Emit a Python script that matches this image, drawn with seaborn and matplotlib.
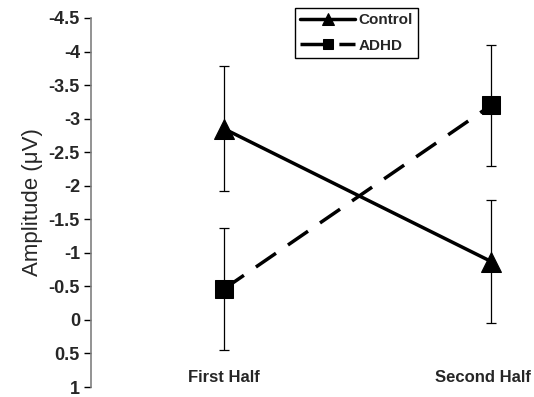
import matplotlib
matplotlib.use("Agg")
import matplotlib.pyplot as plt
from matplotlib.transforms import ScaledTranslation
import seaborn as sns
import pandas as pd

# Mean ERP amplitude per task half, with error bar half-widths
halves = ["First Half", "Second Half"]
control_mean = [-2.85, -0.87]
control_err = [0.93, 0.92]
adhd_mean = [-0.46, -3.20]
adhd_err = [0.91, 0.90]
y_ticks = [-4.5, -4, -3.5, -3, -2.5, -2, -1.5, -1, -0.5, 0, 0.5, 1]

df = pd.DataFrame({
    "half": halves * 2,
    "amp": control_mean + adhd_mean,
    "err": control_err + adhd_err,
    "group": ["Control"] * 2 + ["ADHD"] * 2,
})

sns.set_style("white")
plt.rcParams["font.family"] = ["Liberation Sans", "DejaVu Sans"]

fig = plt.figure(figsize=(5.34, 3.97), dpi=100)
ax = fig.add_axes([91 / 534, 1 - 387 / 397, 1 - 91 / 534, (387 - 18) / 397])

# error bars first so the lines and markers sit on top
for grp in ["Control", "ADHD"]:
    sub = df[df["group"] == grp]
    ax.errorbar(x=[halves.index(h) for h in sub["half"]], y=sub["amp"], yerr=sub["err"],
                fmt="none", ecolor="black", elinewidth=0.9, capsize=3.5, capthick=0.9,
                zorder=2)

sns.lineplot(data=df, x="half", y="amp", hue="group", style="group",
             hue_order=["Control", "ADHD"], style_order=["Control", "ADHD"],
             palette={"Control": "black", "ADHD": "black"},
             markers={"Control": "^", "ADHD": "s"},
             dashes={"Control": "", "ADHD": (7.0, 4.2)},
             linewidth=2.5, markersize=14, markeredgecolor="black",
             ax=ax, zorder=3, legend=True)

for line in ax.lines:
    if line.get_marker() == "s":
        line.set_markersize(12.5)

ax.set_ylim(1, -4.5)
ax.set_xlim(-0.497, 1.16)
ax.set_yticks(y_ticks)
ax.set_yticklabels([f"{v:g}" for v in y_ticks], fontweight="bold", fontsize=13)
ax.set_xticks([0, 1])
ax.set_xticklabels(halves, fontweight="bold", fontsize=12)
ax.tick_params(axis="x", length=0, pad=-12)
ax.tick_params(axis="y", direction="out", length=5, width=1, color="black",
               left=True, pad=3)
# keep the right-hand category label inside the figure
xt = ax.get_xticklabels()[1]
xt.set_transform(xt.get_transform() + ScaledTranslation(-8 / 100, 0, fig.dpi_scale_trans))
ax.set_xlabel("")
ax.set_ylabel("Amplitude (\u03bcV)", fontsize=16, labelpad=4)

for side in ["top", "right", "bottom"]:
    ax.spines[side].set_visible(False)
ax.spines["left"].set_color("#808080")
ax.spines["left"].set_linewidth(1.2)

handles, labels = ax.get_legend_handles_labels()
for h in handles:
    if h.get_marker() == "s":
        h.set_markersize(7.5)
    else:
        h.set_markersize(9)
leg = ax.legend(handles, labels, loc="upper left",
                bbox_to_anchor=(295 / 534, 1 - 8 / 397), bbox_transform=fig.transFigure,
                borderaxespad=0,
                frameon=True, fancybox=False, edgecolor="black", framealpha=1,
                handlelength=3.6, handletextpad=0.2, borderpad=0.35, labelspacing=0.75,
                prop={"weight": "bold", "size": 11})
leg.get_frame().set_linewidth(1.0)

fig.savefig("out.png", dpi=100)
